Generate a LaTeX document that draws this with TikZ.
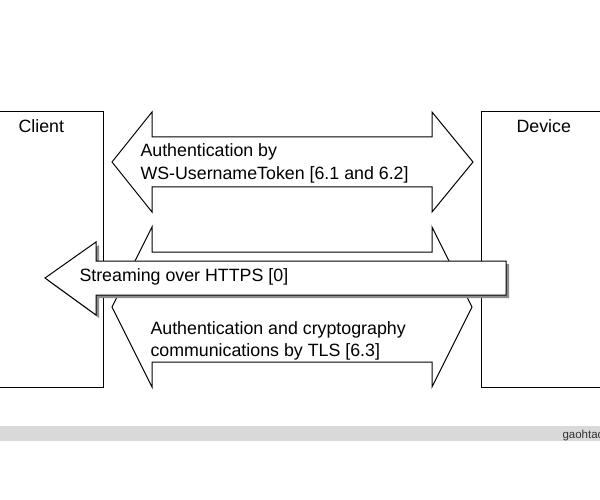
\documentclass[tikz,border=0pt]{standalone}
\usepackage{fontspec}
\setmainfont{Liberation Sans}
\begin{document}
\begin{tikzpicture}[x=1pt,y=-1pt,line width=1pt,line join=miter,
  lbl/.style={inner sep=0pt,font=\fontsize{17.8}{22}\selectfont,anchor=base west},
  arrowshape/.style={draw=black,fill=white},
  shadowshape/.style={fill=black!45}]
\useasboundingbox (0,0) rectangle (600,500);
\clip (0,0) rectangle (600,500);
\fill[white] (0,0) rectangle (600,500);
% boxes
\draw (-5,112) rectangle (103,387);
\draw (481,112) rectangle (610,387);
\node[lbl] (client) at (18,133) {Client};
\node[lbl] (device) at (516,133) {Device};
% top double arrow
\draw[arrowshape] (112,162) -- (152,112) -- (152,137) -- (432,137) -- (432,112) -- (473,162)
  -- (432,212) -- (432,187) -- (152,187) -- (152,212) -- cycle;
\node[lbl] (auth1) at (140,157) {Authentication by};
\node[lbl] (auth2) at (140,179) {WS-UsernameToken [6.1 and 6.2]};
% TLS double arrow
\draw[arrowshape] (112,307) -- (152,227) -- (152,252) -- (432,252) -- (432,227) -- (472,307)
  -- (432,387) -- (432,362) -- (152,362) -- (152,387) -- cycle;
\node[lbl] (tls1) at (150,334) {Authentication and cryptography};
\node[lbl] (tls2) at (150,356) {communications by TLS [6.3]};
% streaming arrow with shadow
\fill[shadowshape,shift={(3,3)}] (45,278) -- (96,242) -- (96,261) -- (506,261) -- (506,295)
  -- (96,295) -- (96,315) -- cycle;
\draw[arrowshape] (45,278) -- (96,242) -- (96,261) -- (506,261) -- (506,295)
  -- (96,295) -- (96,315) -- cycle;
\node[lbl] (stream) at (79,281) {Streaming over HTTPS [0]};
% bottom bar
\fill[black!15] (0,426) rectangle (600,441);
\node[inner sep=0pt,anchor=base west,font=\fontsize{11.5}{13}\selectfont,text=black!80] (credit) at (562,438) {gaohtao};
\end{tikzpicture}
\end{document}
